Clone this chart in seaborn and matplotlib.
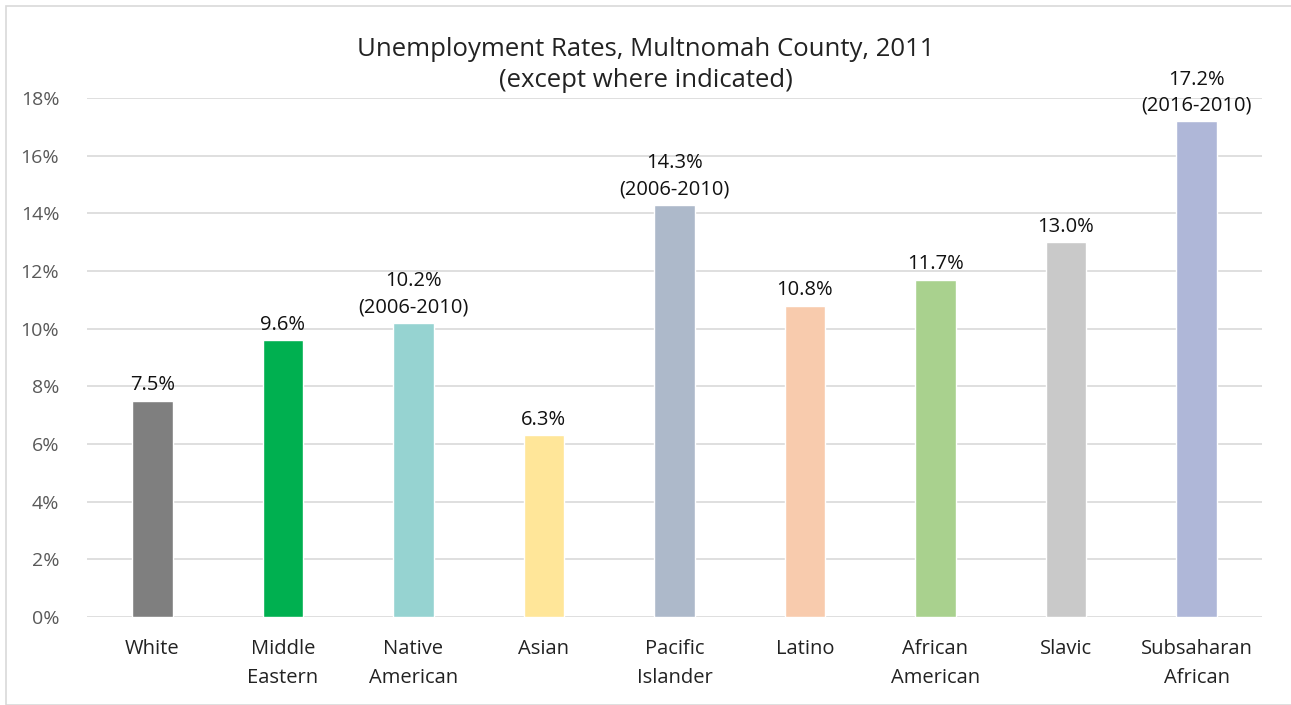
import matplotlib
matplotlib.use('Agg')
import matplotlib.pyplot as plt
import seaborn as sns
import pandas as pd
from matplotlib.patches import Rectangle

groups = ["White", "Middle\nEastern", "Native\nAmerican", "Asian", "Pacific\nIslander",
          "Latino", "African\nAmerican", "Slavic", "Subsaharan\nAfrican"]
rates = [7.5, 9.6, 10.2, 6.3, 14.3, 10.8, 11.7, 13.0, 17.2]
periods = ["", "", "2006-2010", "", "2006-2010", "", "", "", "2016-2010"]
bar_colors = ["#7F7F7F", "#00B050", "#96D3D1", "#FFE699", "#ADB9CA",
              "#F8CBAD", "#A9D18E", "#C9C9C9", "#AFB7D8"]

df = pd.DataFrame({"group": groups, "rate": rates})

sns.set_style("white")
plt.rcParams['font.family'] = ['Open Sans', 'DejaVu Sans']

fig = plt.figure(figsize=(12.91, 7.05), dpi=100)
ax = fig.add_axes([0.0674, 0.1248, 0.91, 0.7362])

sns.barplot(data=df, x="group", y="rate", hue="group", palette=bar_colors,
            legend=False, width=0.31, saturation=1, ax=ax)

ax.set_ylim(0, 18)
ax.set_xlim(-0.5, 8.5)
ax.set_yticks(range(0, 19, 2))
ax.set_yticklabels([f"{t}%" for t in range(0, 19, 2)])
ax.yaxis.grid(True, color="#D9D9D9", linewidth=1.2)
ax.set_axisbelow(True)
for s in ax.spines.values():
    s.set_visible(False)
ax.tick_params(axis='y', length=0, labelsize=14, labelcolor="#595959", pad=20)
ax.tick_params(axis='x', length=0, labelsize=14.5, labelcolor="#222222", pad=16)
for lbl in ax.get_xticklabels():
    lbl.set_linespacing(1.6)
ax.set_xlabel("")
ax.set_ylabel("")

# value labels, with the period on a second line where given
for i, (r, p) in enumerate(zip(rates, periods)):
    label = f"{r:.1f}%" if not p else f"{r:.1f}%\n({p})"
    ax.annotate(label, (i, r), xytext=(0, 4), textcoords="offset points",
                ha="center", va="bottom", fontsize=14.5, color="#111111",
                linespacing=1.4)

fig.text(0.5, 0.908, "Unemployment Rates, Multnomah County, 2011\n(except where indicated)",
         ha="center", va="center", fontsize=18.5, color="#222222", linespacing=1.3)

fig.patches.append(Rectangle((6 / 1291, 0), 1.0, 1 - 6 / 705, transform=fig.transFigure,
                             fill=False, edgecolor="#D9D9D9", linewidth=1.2))

fig.savefig("out.png", dpi=100)
